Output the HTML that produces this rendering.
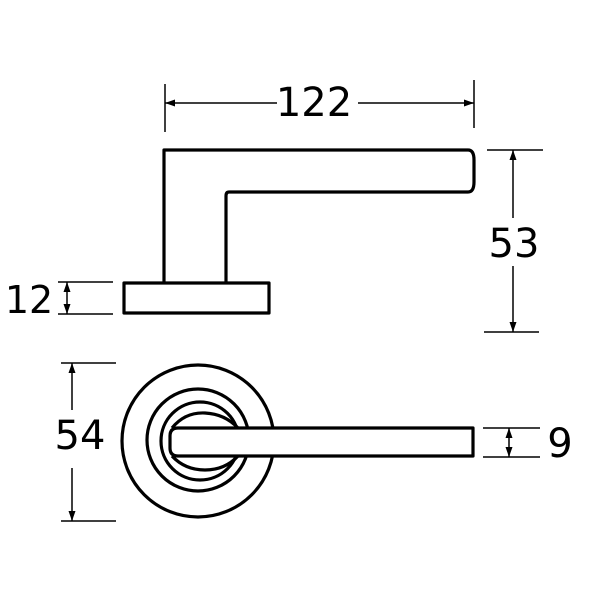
<!DOCTYPE html>
<html><head><style>body{margin:0;background:#fff}svg{display:block}</style></head><body>
<svg width="600" height="600" viewBox="0 0 600 600" xmlns="http://www.w3.org/2000/svg">
<defs>
<marker id="a" viewBox="0 0 10 10" refX="10" refY="5" markerWidth="10" markerHeight="10" markerUnits="userSpaceOnUse" orient="auto-start-reverse"><path d="M0,1.5 L10,5 L0,8.5 z" fill="#000"/></marker>
</defs>
<g fill="none" stroke="#000" stroke-width="3.2" stroke-linejoin="round">
<path d="M164,283 L164,150 L468,150 Q474,150 474,160 L474,182 Q474,192 468,192 L229,192 Q226,192 226,196 L226,283"/>
<rect x="124" y="283" width="145" height="30"/>
<circle cx="198" cy="441" r="76"/>
<circle cx="198" cy="440" r="51"/>
<circle cx="200" cy="441" r="39"/>
<path d="M172,428 Q185,412 205,413 Q225,414 238,428 M238,456 Q225,470 205,470 Q185,470 172,456"/>
<path d="M178,428 L473,428 L473,456 L178,456 Q170,456 170,448 L170,436 Q170,428 178,428 Z" fill="#fff"/>
</g>
<g stroke="#000" stroke-width="1.5" fill="none">
<line x1="165" y1="84" x2="165" y2="132"/><line x1="474" y1="80" x2="474" y2="128"/>
<line x1="165" y1="103" x2="277" y2="103" marker-start="url(#a)"/>
<line x1="358" y1="103" x2="474" y2="103" marker-end="url(#a)"/>
<line x1="487" y1="150" x2="543" y2="150"/><line x1="484" y1="332" x2="539" y2="332"/>
<line x1="513" y1="150" x2="513" y2="218" marker-start="url(#a)"/>
<line x1="513" y1="266" x2="513" y2="332" marker-end="url(#a)"/>
<line x1="58" y1="282" x2="113" y2="282"/><line x1="58" y1="314" x2="113" y2="314"/>
<line x1="67" y1="282" x2="67" y2="314" marker-start="url(#a)" marker-end="url(#a)"/>
<line x1="61" y1="363" x2="116" y2="363"/><line x1="61" y1="521" x2="116" y2="521"/>
<line x1="72" y1="363" x2="72" y2="410" marker-start="url(#a)"/>
<line x1="72" y1="468" x2="72" y2="521" marker-end="url(#a)"/>
<line x1="483" y1="428" x2="540" y2="428"/><line x1="483" y1="457" x2="540" y2="457"/>
<line x1="509" y1="428" x2="509" y2="457" marker-start="url(#a)" marker-end="url(#a)"/>
</g>
<g font-family="DejaVu Sans, Liberation Sans, sans-serif" font-size="40" fill="#000">
<text x="314" y="116" text-anchor="middle">122</text>
<text x="514" y="257" text-anchor="middle">53</text>
<text x="29" y="313" text-anchor="middle" font-size="38">12</text>
<text x="80" y="449" text-anchor="middle">54</text>
<text x="560" y="457" text-anchor="middle">9</text>
</g>
</svg>
</body></html>
